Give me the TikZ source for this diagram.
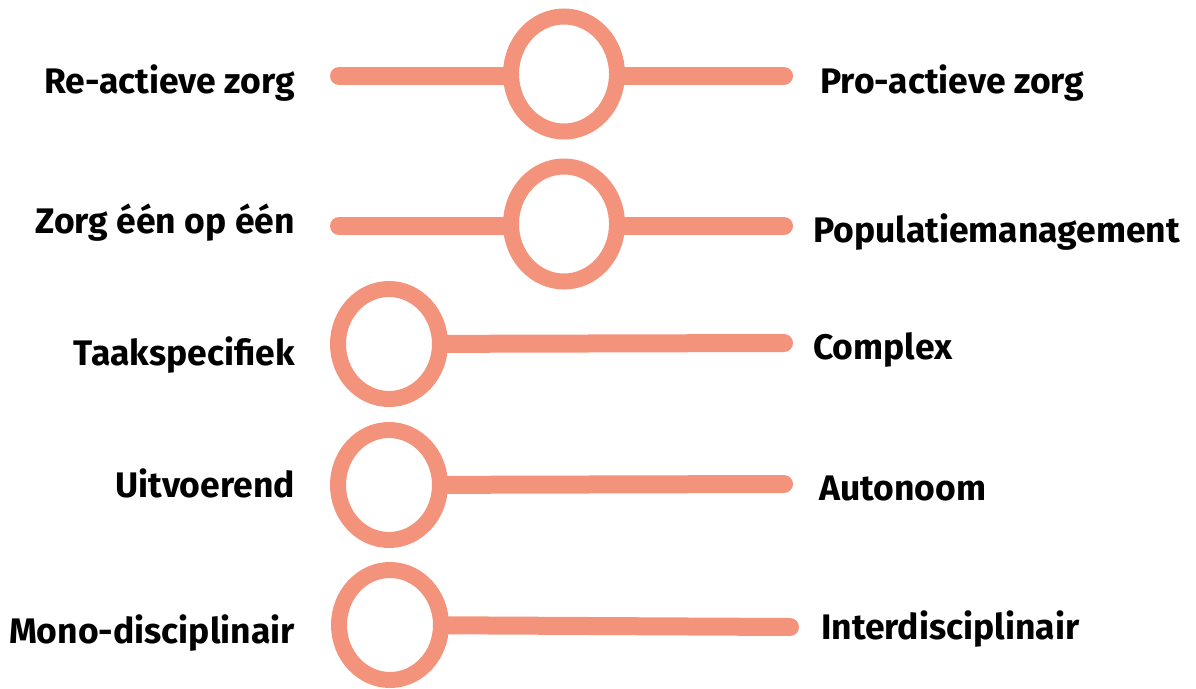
\documentclass[tikz,border=0pt]{standalone}
\usepackage{fontspec}
\setmainfont{Fira Sans}
\usetikzlibrary{backgrounds}
\definecolor{salmon}{RGB}{244,147,123}
\begin{document}
\begin{tikzpicture}[x=1pt,y=-1pt,
  ring/.style={draw=salmon,fill=white,line width=16pt},
  bar/.style={draw=salmon,line width=18pt,line cap=round},
  lab/.style={font=\fontsize{35.5}{42}\selectfont\bfseries,inner sep=0pt,text=black}]
\useasboundingbox (0,0) rectangle (1196,688);
% knob centres
\coordinate (k1) at (564,74);
\coordinate (k2) at (564,224);
\coordinate (k3) at (389,344);
\coordinate (k4) at (389,485);
\coordinate (k5) at (390,625);
% end points
\coordinate (a1) at (339,76);  \coordinate (b1) at (784,76);
\coordinate (a2) at (339,226); \coordinate (b2) at (784,226);
\coordinate (b3) at (784,343);
\coordinate (b4) at (784,484);
\coordinate (b5) at (790,627);
% bars
\draw[bar] (a1) -- (b1);
\draw[bar] (a2) -- (b2);
\draw[bar] (k3) -- (b3);
\draw[bar] (k4) -- (b4);
\draw[bar] (k5) -- (b5);
% rings
\draw[ring] (k1) ellipse [x radius=53, y radius=57.5];
\draw[ring] (k2) ellipse [x radius=53, y radius=57.5];
\draw[ring] (k3) ellipse [x radius=51, y radius=55];
\draw[ring] (k4) ellipse [x radius=51, y radius=55];
\draw[ring] (k5) ellipse [x radius=51, y radius=55];
% labels
\node[lab,anchor=base east] (l1) at (295,93) {Re-actieve zorg};
\node[lab,anchor=base east] (l2) at (295,233) {Zorg één op één};
\node[lab,anchor=base east] (l3) at (295,365) {Taakspecifiek};
\node[lab,anchor=base east] (l4) at (295,497) {Uitvoerend};
\node[lab,anchor=base east] (l5) at (295,643) {Mono-disciplinair};
\node[lab,anchor=base west] (r1) at (820,93) {Pro-actieve zorg};
\node[lab,anchor=base west] (r2) at (813,242) {Populatiemanagement};
\node[lab,anchor=base west] (r3) at (813,359) {Complex};
\node[lab,anchor=base west] (r4) at (819,500) {Autonoom};
\node[lab,anchor=base west] (r5) at (821,639) {Interdisciplinair};
\end{tikzpicture}
\end{document}
